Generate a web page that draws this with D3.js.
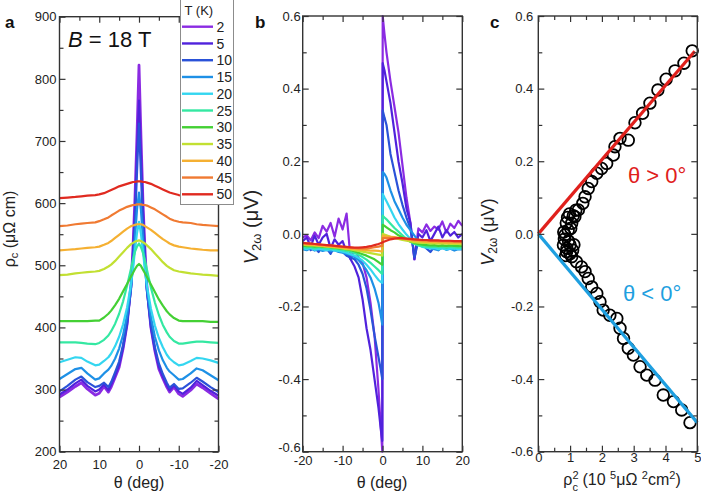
<!DOCTYPE html>
<html><head><meta charset="utf-8">
<script src="https://cdn.jsdelivr.net/npm/d3@7"></script>
<style>
html,body{margin:0;padding:0;background:#fff;}
svg{display:block;font-family:"Liberation Sans",Arial,Helvetica,sans-serif;}
</style></head><body>
<svg id="chart" width="701" height="494"></svg>
<script>
// ---------- DATA ----------
const temps = [2, 5, 10, 15, 20, 25, 30, 35, 40, 45, 50];
const tempColors = ["#8b2be2", "#5022dc", "#2a52d8", "#1e90e6", "#34d6f0", "#34e8a2", "#44d034", "#c2e032", "#f5b032", "#f07a32", "#e02a20"];

// Panel a: rho_c (μΩ cm) vs theta (deg)
const thetaA = [20, 18, 16, 14.5, 13, 11, 10, 8.8, 7.7, 7, 6, 5, 4, 3, 2, 1.5, 1, 0.5, 0, -0.5, -1, -1.5, -2, -3, -4, -5, -6, -7, -7.7, -8.8, -10, -11, -13, -14.5, -16, -18, -20];
const rho2K  = [288,296,305,311,301,291,294,305,296,304,320,336,366,405,470,530,610,710,822,705,600,525,465,400,362,333,318,304,296,304,293,289,299,309,303,294,285];
const rho5K  = [292,300,310,316,306,297,300,308,299,308,323,340,368,405,465,520,590,680,765,675,585,515,460,400,364,337,321,307,299,307,297,293,303,314,307,298,290];
const rho10K = [297,306,316,321,312,304,306,311,304,312,328,345,372,408,462,510,570,650,728,645,565,505,458,404,368,342,325,311,303,309,301,302,311,319,313,304,296];
const rho15K = [317,325,333,335,326,316,318,326,332,338,350,366,388,420,465,500,545,590,617,588,542,497,462,417,385,363,347,335,329,323,316,317,326,334,331,323,315];
const rho20K = [344,348,352,351,345,339,340,346,352,358,370,385,405,432,470,495,525,552,570,550,522,492,467,430,403,383,368,356,350,344,339,340,346,351,350,347,343];
const rho25K = [376,376,376,375,374,373,375,380,387,394,406,422,442,467,495,510,522,530,535,529,520,508,493,464,440,420,404,392,385,378,374,374,376,377,377,376,375];
const rho30K = [410,410,410,410,410,411,411,416,422,427,436,446,458,470,482,488,494,499,502,499,493,487,481,469,457,445,435,426,421,415,411,410,410,410,410,409,409];
const rho35K = [484,485,487,488,489,490,491,494,498,501,507,514,521,528,534,536,538,539,540,539,537,535,532,526,519,512,505,499,496,492,490,489,487,486,485,484,483];
const rho40K = [524,525,526,527,528,529,530,533,536,539,544,549,554,559,563,564,565,566,566,566,565,563,561,557,552,547,542,538,535,532,530,529,527,526,525,524,524];
const rho45K = [563,564,566,567,568,569,571,574,577,580,584,588,591,594,596,597,597,598,598,598,597,597,596,593,590,586,582,578,575,572,570,569,568,566,565,564,563];
const rho50K = [608,609,610,611,612,613,614,616,619,621,624,627,629,631,633,634,634,635,635,635,634,634,633,631,628,625,622,619,617,615,613,612,611,610,609,608,607];

// Panel b: V_2ω (μV) vs theta (deg)
const thetaB = [-20,-19,-18,-17,-16,-15,-14,-13,-12,-11,-10,-9,-8,-7,-6,-5,-4,-3,-2,-1,-0.5,-0.05,
                0.05,0.5,1,2,3,4,5,6,7,8,9,10,11,12,13,14,15,16,17,18,19,20];
const v2K  = [-0.01,-0.004,-0.018,0.004,-0.012,0.022,0.006,0.03,-0.008,0.042,0.012,0.056,-0.07,-0.04,-0.066,-0.08,-0.12,-0.19,-0.28,-0.43,-0.52,-0.6,
              0.6,0.55,0.5,0.42,0.35,0.28,0.19,0.1,0.03,-0.07,0.015,0.004,0.026,0.008,0.02,0.012,0.034,0.004,0.028,0.016,0.036,0.022];
const v5K  = [-0.02,-0.01,-0.035,-0.005,-0.03,-0.01,0.0,-0.04,-0.015,-0.03,-0.02,-0.05,-0.07,-0.09,-0.12,-0.18,-0.26,-0.32,-0.4,-0.48,-0.53,-0.57,
              0.47,0.45,0.42,0.36,0.28,0.2,0.14,0.07,0.03,-0.07,0.0,-0.01,0.01,-0.02,0.0,0.02,-0.01,0.01,-0.005,0.005,-0.01,0.0];
const v10K = [-0.035,-0.03,-0.045,-0.038,-0.05,-0.032,-0.04,-0.055,-0.035,-0.048,-0.05,-0.06,-0.065,-0.07,-0.085,-0.11,-0.15,-0.21,-0.28,-0.34,-0.37,-0.4,
              0.34,0.32,0.3,0.22,0.17,0.12,0.08,0.045,0.015,-0.065,-0.02,-0.03,-0.04,-0.05,-0.035,-0.045,-0.03,-0.04,-0.028,-0.035,-0.03,-0.032];
const v15K = [-0.042,-0.045,-0.04,-0.046,-0.043,-0.047,-0.044,-0.048,-0.045,-0.05,-0.052,-0.055,-0.058,-0.064,-0.072,-0.085,-0.1,-0.12,-0.15,-0.19,-0.22,-0.25,
              0.17,0.165,0.155,0.12,0.09,0.068,0.045,0.025,0.01,-0.005,-0.02,-0.03,-0.036,-0.04,-0.042,-0.045,-0.038,-0.044,-0.041,-0.046,-0.042,-0.043];
const v20K = [-0.04,-0.042,-0.039,-0.044,-0.041,-0.043,-0.045,-0.042,-0.046,-0.047,-0.049,-0.052,-0.056,-0.06,-0.066,-0.074,-0.085,-0.098,-0.113,-0.127,-0.132,-0.135,
              0.11,0.1,0.09,0.068,0.045,0.027,0.012,-0.002,-0.014,-0.024,-0.031,-0.036,-0.038,-0.04,-0.039,-0.042,-0.04,-0.043,-0.041,-0.04,-0.042,-0.041];
const v25K = [-0.036,-0.038,-0.036,-0.04,-0.037,-0.039,-0.041,-0.04,-0.042,-0.043,-0.045,-0.047,-0.05,-0.053,-0.058,-0.064,-0.071,-0.08,-0.09,-0.1,-0.106,-0.11,
              0.05,0.045,0.04,0.028,0.016,0.006,-0.004,-0.014,-0.022,-0.028,-0.032,-0.034,-0.035,-0.036,-0.035,-0.037,-0.036,-0.038,-0.036,-0.037,-0.038,-0.037];
const v30K = [-0.032,-0.034,-0.033,-0.035,-0.034,-0.036,-0.035,-0.037,-0.038,-0.04,-0.041,-0.043,-0.045,-0.048,-0.052,-0.056,-0.06,-0.065,-0.07,-0.078,-0.082,-0.085,
              0.025,0.022,0.018,0.01,0.004,-0.004,-0.01,-0.016,-0.021,-0.025,-0.028,-0.03,-0.031,-0.032,-0.031,-0.033,-0.032,-0.033,-0.032,-0.033,-0.034,-0.033];
const v35K = [-0.03,-0.031,-0.032,-0.032,-0.033,-0.034,-0.035,-0.036,-0.037,-0.038,-0.04,-0.042,-0.043,-0.045,-0.047,-0.049,-0.051,-0.053,-0.055,-0.057,-0.058,-0.06,
              0.0,-0.002,-0.004,-0.008,-0.011,-0.014,-0.017,-0.019,-0.021,-0.023,-0.024,-0.025,-0.025,-0.026,-0.026,-0.027,-0.027,-0.027,-0.028,-0.028,-0.028,-0.029];
const v40K = [-0.028,-0.029,-0.03,-0.031,-0.032,-0.033,-0.034,-0.035,-0.036,-0.037,-0.038,-0.04,-0.041,-0.042,-0.043,-0.044,-0.045,-0.046,-0.046,-0.047,-0.048,-0.048,
              -0.005,-0.006,-0.007,-0.008,-0.009,-0.011,-0.013,-0.015,-0.017,-0.019,-0.02,-0.021,-0.022,-0.022,-0.023,-0.023,-0.023,-0.024,-0.024,-0.024,-0.024,-0.025];
const v45K = [-0.025,-0.026,-0.027,-0.028,-0.029,-0.03,-0.031,-0.032,-0.033,-0.035,-0.036,-0.037,-0.038,-0.039,-0.04,-0.04,-0.04,-0.039,-0.037,-0.035,-0.034,-0.033,
              -0.012,-0.012,-0.012,-0.011,-0.011,-0.012,-0.013,-0.014,-0.015,-0.016,-0.017,-0.018,-0.018,-0.019,-0.019,-0.02,-0.02,-0.02,-0.021,-0.021,-0.021,-0.022];
const v50K = [-0.025,-0.026,-0.027,-0.028,-0.029,-0.03,-0.031,-0.032,-0.033,-0.034,-0.035,-0.036,-0.037,-0.038,-0.038,-0.037,-0.036,-0.034,-0.031,-0.028,-0.026,-0.024,
              -0.023,-0.021,-0.019,-0.015,-0.013,-0.012,-0.012,-0.013,-0.014,-0.015,-0.016,-0.017,-0.017,-0.018,-0.018,-0.018,-0.019,-0.019,-0.019,-0.02,-0.02,-0.02];

// Panel c: V_2ω vs rho_c^2 (10^5 μΩ^2 cm^2)
const rhoSqPos = [0.84,0.94,1.05,1.15,1.26,1.40,1.47,1.57,1.68,1.84,1.99,2.15,2.36,2.41,2.57,2.83,3.04,3.28,3.51,3.76,4.02,4.30,4.58,4.84,
                  0.80,0.88,0.92,0.98,1.02,1.10,1.18];
const vPos     = [-0.003,0.01,0.029,0.047,0.066,0.084,0.102,0.125,0.144,0.167,0.18,0.194,0.217,0.24,0.263,0.258,0.306,0.332,0.36,0.396,0.426,0.449,0.47,0.504,
                  0.005,0.03,0.045,0.055,0.015,0.05,0.065];
const rhoSqNeg = [0.79,1.0,0.89,1.05,1.2,1.36,1.47,1.57,1.68,1.84,1.94,2.04,2.25,2.47,2.57,2.68,2.83,2.99,3.2,3.41,3.67,3.93,4.25,4.51,4.77,
                  0.82,0.9,0.95,1.0,1.08,0.86,1.12];
const vNeg     = [-0.031,-0.031,-0.049,-0.063,-0.077,-0.091,-0.104,-0.123,-0.146,-0.164,-0.187,-0.21,-0.224,-0.233,-0.26,-0.288,-0.315,-0.334,-0.366,-0.389,-0.403,-0.444,-0.462,-0.485,-0.52,
                  -0.015,-0.04,-0.02,-0.055,-0.045,-0.06,-0.03];
const fitPosX = [0, 4.92], fitPosY = [0, 0.503];
const fitNegX = [0, 5.0],  fitNegY = [0, -0.52];

// tick values
const aXMajor = [20, 10, 0, -10, -20], aXMinor = [15, 5, -5, -15];
const aYMajor = [200, 300, 400, 500, 600, 700, 800, 900], aYMinor = [250, 350, 450, 550, 650, 750, 850];
const bXMajor = [-20, -10, 0, 10, 20], bXMinor = [-15, -5, 5, 15];
const vYMajor = [-0.6, -0.4, -0.2, 0, 0.2, 0.4, 0.6], vYMinor = [-0.5, -0.3, -0.1, 0.1, 0.3, 0.5];
const cXMajor = [0, 1, 2, 3, 4, 5], cXMinor = [0.5, 1.5, 2.5, 3.5, 4.5];

// ---------- DRAW ----------
const svg = d3.select("#chart");
const AX = "#333";

function fmtInt(d){ return String(d); }
function fmt1(d){ return (Math.abs(d) < 1e-9 ? 0 : d).toFixed(1); }

function drawFrame(x, y, o){
  const [x0, x1] = x.range().slice().sort((a,b)=>a-b);
  const [yt, yb] = y.range().slice().sort((a,b)=>a-b);
  const g = svg.append("g");
  const mk = (gen, tr, vals, size, fmt, pad) => {
    const a = g.append("g").attr("transform", tr)
      .call(gen.tickValues(vals).tickSizeInner(-size).tickSizeOuter(0).tickPadding(pad).tickFormat(fmt));
    a.select(".domain").remove();
    a.selectAll("line").attr("stroke", AX).attr("stroke-width", 1.2);
    a.attr("font-family", null).attr("font-size", 13);
    a.selectAll("text").attr("fill", "#222");
    return a;
  };
  mk(d3.axisBottom(x), `translate(0,${yb})`, o.xMajor, 6, o.xFmt, o.xPad);
  mk(d3.axisBottom(x), `translate(0,${yb})`, o.xMinor, 4, () => "", 0);
  mk(d3.axisTop(x), `translate(0,${yt})`, o.xMajor, 6, () => "", 0);
  mk(d3.axisTop(x), `translate(0,${yt})`, o.xMinor, 4, () => "", 0);
  const yl = mk(d3.axisLeft(y), `translate(${x0},0)`, o.yMajor, 6, o.yFmt, o.yPad);
  if (o.lowLift) yl.selectAll(".tick text").filter(d => d === o.yMajor[0]).attr("dy", o.lowLift);
  mk(d3.axisLeft(y), `translate(${x0},0)`, o.yMinor, 4, () => "", 0);
  mk(d3.axisRight(y), `translate(${x1},0)`, o.yMajor, 6, () => "", 0);
  mk(d3.axisRight(y), `translate(${x1},0)`, o.yMinor, 4, () => "", 0);
  g.append("rect").attr("x", x0).attr("y", yt).attr("width", x1 - x0).attr("height", yb - yt)
    .attr("fill", "none").attr("stroke", AX).attr("stroke-width", 1.4);
}

// ---- Panel a ----
const xA = d3.scaleLinear().domain([20, -20]).range([59.5, 218.5]);
const yA = d3.scaleLinear().domain([200, 900]).range([451.7, 16.7]);
const seriesA = [rho2K, rho5K, rho10K, rho15K, rho20K, rho25K, rho30K, rho35K, rho40K, rho45K, rho50K];
const lineA = vals => d3.line().x((d, i) => xA(thetaA[i])).y(d => yA(d))(vals);
const gA = svg.append("g");
seriesA.forEach((s, k) => {
  gA.append("path").attr("d", lineA(s)).attr("fill", "none")
    .attr("stroke", tempColors[k]).attr("stroke-width", k === 0 ? 2.8 : 2.2).attr("stroke-linejoin", "round");
});
drawFrame(xA, yA, {xMajor: aXMajor, xMinor: aXMinor, yMajor: aYMajor, yMinor: aYMinor, xFmt: fmtInt, yFmt: fmtInt, xPad: 8, yPad: 3});

// B = 18 T
svg.append("text").attr("x", 68).attr("y", 46.5).attr("font-size", 22).attr("fill", "#111")
  .call(t => { t.append("tspan").attr("font-style", "italic").text("B"); t.append("tspan").text(" = 18 T"); });

// legend
const leg = svg.append("g");
leg.append("rect").attr("x", 180.5).attr("y", -2).attr("width", 53).attr("height", 206.5)
  .attr("fill", "#fff").attr("stroke", "#8c8c8c").attr("stroke-width", 1);
leg.append("text").attr("x", 184.5).attr("y", 15).attr("font-size", 13).attr("fill", "#222").text("T (K)");
temps.forEach((t, k) => {
  const yy = 26.7 + k * 16.76;
  leg.append("line").attr("x1", 182).attr("x2", 213).attr("y1", yy).attr("y2", yy)
    .attr("stroke", tempColors[k]).attr("stroke-width", 2.4);
  leg.append("text").attr("x", 216.5).attr("y", yy).attr("dy", "0.36em").attr("font-size", 14).attr("fill", "#222").text(t);
});

// axis titles a
svg.append("text").attr("transform", "translate(15,229) rotate(-90)").attr("text-anchor", "middle")
  .attr("font-size", 16).attr("fill", "#222")
  .call(t => { t.append("tspan").text("ρ"); t.append("tspan").attr("font-size", 11).attr("baseline-shift", "-25%").text("c");
               t.append("tspan").text(" (μΩ cm)"); });
svg.append("text").attr("x", 139).attr("y", 488).attr("text-anchor", "middle").attr("font-size", 16).attr("fill", "#222").text("θ (deg)");

// ---- Panel b ----
const xB = d3.scaleLinear().domain([-20, 20]).range([302.7, 462.3]);
const yV = d3.scaleLinear().domain([-0.6, 0.6]).range([451.7, 16]);
const seriesB = [v2K, v5K, v10K, v15K, v20K, v25K, v30K, v35K, v40K, v45K, v50K];
const lineB = vals => d3.line().x((d, i) => xB(thetaB[i])).y(d => yV(d))(vals);
const gB = svg.append("g");
seriesB.forEach((s, k) => {
  gB.append("path").attr("d", lineB(s)).attr("fill", "none")
    .attr("stroke", tempColors[k]).attr("stroke-width", 2.2).attr("stroke-linejoin", "round");
});
drawFrame(xB, yV, {xMajor: bXMajor, xMinor: bXMinor, yMajor: vYMajor, yMinor: vYMinor, xFmt: fmtInt, yFmt: fmt1, xPad: 4, yPad: 2, lowLift: "0.02em"});
svg.append("text").attr("transform", "translate(258,227) rotate(-90)").attr("text-anchor", "middle")
  .attr("font-size", 20).attr("fill", "#222")
  .call(t => { t.append("tspan").attr("font-style", "italic").text("V"); t.append("tspan").attr("font-size", 13).attr("baseline-shift", "-25%").text("2ω");
               t.append("tspan").text(" (μV)"); });
svg.append("text").attr("x", 382).attr("y", 488).attr("text-anchor", "middle").attr("font-size", 16).attr("fill", "#222").text("θ (deg)");

// ---- Panel c ----
const xC = d3.scaleLinear().domain([0, 5]).range([538.3, 697.3]);
const gC = svg.append("g");
const ptsC = rhoSqPos.map((r, i) => [r, vPos[i]]).concat(rhoSqNeg.map((r, i) => [r, vNeg[i]]));
gC.selectAll("circle").data(ptsC).join("circle")
  .attr("cx", d => xC(d[0])).attr("cy", d => yV(d[1])).attr("r", 5.8)
  .attr("fill", "none").attr("stroke", "#000").attr("stroke-width", 1.8);
gC.append("line").attr("x1", xC(fitPosX[0])).attr("y1", yV(fitPosY[0])).attr("x2", xC(fitPosX[1])).attr("y2", yV(fitPosY[1]))
  .attr("stroke", "#e0201c").attr("stroke-width", 3.2);
gC.append("line").attr("x1", xC(fitNegX[0])).attr("y1", yV(fitNegY[0])).attr("x2", xC(fitNegX[1])).attr("y2", yV(fitNegY[1]))
  .attr("stroke", "#1e9fe0").attr("stroke-width", 3.2);
drawFrame(xC, yV, {xMajor: cXMajor, xMinor: cXMinor, yMajor: vYMajor, yMinor: vYMinor, xFmt: fmtInt, yFmt: fmt1, xPad: 1, yPad: 5});
svg.append("text").attr("x", 628).attr("y", 183).attr("font-size", 22).attr("fill", "#e0201c").text("θ > 0°");
svg.append("text").attr("x", 623).attr("y", 301).attr("font-size", 22).attr("fill", "#1e9fe0").text("θ < 0°");
svg.append("text").attr("transform", "translate(493.5,232) rotate(-90)").attr("text-anchor", "middle")
  .attr("font-size", 18).attr("fill", "#222")
  .call(t => { t.append("tspan").attr("font-style", "italic").text("V"); t.append("tspan").attr("font-size", 12).attr("baseline-shift", "-25%").text("2ω");
               t.append("tspan").text(" (μV)"); });
svg.append("text").attr("x", 622).attr("y", 485).attr("text-anchor", "middle").attr("font-size", 16).attr("fill", "#222")
  .call(t => {
    t.append("tspan").text("ρ");
    t.append("tspan").attr("font-size", 11).attr("baseline-shift", "super").text("2");
    t.append("tspan").attr("font-size", 11).attr("dx", -6).attr("baseline-shift", "sub").text("c");
    t.append("tspan").text(" (10 ");
    t.append("tspan").attr("font-size", 11).attr("baseline-shift", "super").text("5");
    t.append("tspan").text("μΩ ");
    t.append("tspan").attr("font-size", 11).attr("baseline-shift", "super").text("2");
    t.append("tspan").text("cm");
    t.append("tspan").attr("font-size", 11).attr("baseline-shift", "super").text("2");
    t.append("tspan").text(")");
  });

// panel labels
[["a", 5], ["b", 255], ["c", 490]].forEach(([s, x]) => {
  svg.append("text").attr("x", x).attr("y", 28.3).attr("font-size", 17).attr("font-weight", "bold").attr("fill", "#111").text(s);
});
</script>
</body></html>
